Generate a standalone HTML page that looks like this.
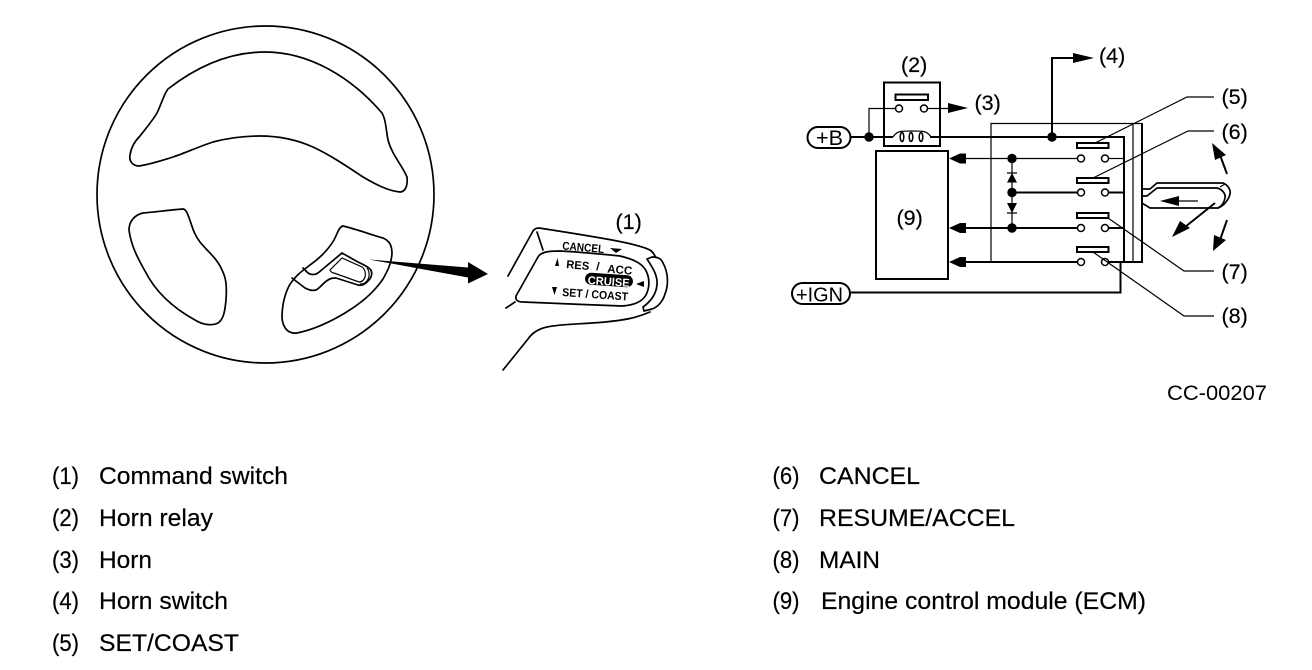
<!DOCTYPE html>
<html lang="en">
<head>
<meta charset="utf-8">
<title>Cruise control command switch diagram</title>
<style>
html,body{margin:0;padding:0;background:#fff;width:1312px;height:670px;overflow:hidden}
svg{display:block}
text{font-family:"Liberation Sans",Arial,sans-serif;fill:#000}
.l{font-size:24px;stroke:#000;stroke-width:.2}
.p{font-size:21.5px;stroke:#000;stroke-width:.2}
.s{font-size:11.500px;font-weight:bold}
.w{fill:none;stroke:#000;stroke-width:1.7;stroke-linejoin:round;stroke-linecap:round}
.t{fill:none;stroke:#000;stroke-width:1.2}
.m{fill:none;stroke:#000;stroke-width:2}
.c{fill:#fff;stroke:#000;stroke-width:1.500}
.d{fill:#000;stroke:none}
</style>
</head>
<body>
<svg width="1312" height="670" viewBox="0 0 1312 670" xmlns="http://www.w3.org/2000/svg">
<rect width="1312" height="670" fill="#fff"/>

<!-- Steering wheel -->
<circle class="w" cx="265.5" cy="194.5" r="168.5"/>
<path class="w" d="M168 89C195 68 228 52 265 52C310 52 352 78 382 113C386 120 386 130 388 140C392 155 402 165 407 177C408 186 405 192 400 192C388 191 375 184 363 177C345 165 330 155 313 147C295 139 278 136 260 136C243 136 228 138 213 142C198 147 185 153 173 157C160 161 148 165 138 166C132 165 129 161 130 155C131 148 134 142 140 136C147 127 153 120 157 113C161 105 164 94 168 89Z"/>
<path class="w" d="M183 209C170 210 155 212 143 213C134 215 129 222 129 230C131 245 137 257 145 271C156 293 175 309 195 320C203 325 212 326 218 323C224 319 225 310 226 300C227 285 226 278 222 270C217 258 207 251 200 242C193 233 192 225 188 215C187 212 185 209 183 209Z"/>
<path class="w" d="M343 226C356 229 372 235 383 238C390 241 392 246 392 254C391 264 388 270 383 279C372 295 358 305 345 313C330 322 312 330 297 333C288 334 283 328 282 318C282 306 284 296 289 286C295 276 302 271 310 265C320 258 328 250 334 240C338 232 339 227 343 226Z"/>
<!-- wheel switch -->
<path class="w" d="M292 278L305 288C309 290 312 291 316 290C320 288 323 283 328 280C331 278 333 278 336 278L358 285C362 286 365 284 367 282C372 278 373 272 370 269C367 266 362 264 358 262L342 253L318 273C315 275 311 275 308 273L303 268"/>
<path class="t" d="M342 258L330 270C331 272 332 273 334 273L359 282C362 282 364 280 365 277C366 273 365 269 362 267Z"/>
<path class="t" d="M367 268C370 272 370 278 366 282C364 284 362 284 360 284"/>
<!-- big arrow -->
<path class="d" d="M369 259.500L468 267.500V262L488 274L468 283.500V277.500Z"/>

<!-- Command switch -->
<path class="w" d="M508 276L533 231Q535 228 539 228C565 232 590 236 612 240C628 243 642 246 650 250C653 252 654 254 655 256"/>
<path class="w" d="M650 312C636 318 625 320 605 322C585 324 560 324 547 327C538 329 532 333 528 339L503 370"/>
<path class="w" d="M537 232L543 250"/>
<path class="w" d="M560 251C580 252 600 254 620 256C632 259 640 262 645 269C650 277 650 287 646 295C642 302 634 305 622 306C590 305 550 303 523 302C518 302 515 300 516 296L538 257C541 252 548 251 560 251Z"/>
<path class="w" d="M506 308L515 302"/>
<path class="w" d="M647 259L652 257C657 257 661 258 663 263C668 272 669 284 665 294C663 301 658 307 652 309L644 311L643 307C650 302 656 295 657 285C658 275 652 267 647 259Z"/>
<text class="s" transform="translate(562 249.500) rotate(5)" textLength="42" lengthAdjust="spacingAndGlyphs">CANCEL</text>
<path class="d" d="M610 248L622 249L616 253Z"/>
<path class="d" d="M555 266L557.500 258L559 266Z"/>
<text class="s" transform="translate(566 268) rotate(5)" textLength="23" lengthAdjust="spacingAndGlyphs">RES</text>
<text class="s" transform="translate(596 270) rotate(5)">/</text>
<text class="s" transform="translate(607 272.500) rotate(5)" textLength="25" lengthAdjust="spacingAndGlyphs">ACC</text>
<rect x="585" y="274" width="48" height="12" rx="6" transform="rotate(4 609 280)" fill="#000"/>
<text class="s" transform="translate(587.500 284) rotate(4)" style="fill:#fff" textLength="42" lengthAdjust="spacingAndGlyphs">CRUISE</text>
<path class="d" d="M636 284L644 281V287Z"/>
<path class="d" d="M552 287L557 287L554.500 295Z"/>
<text class="s" transform="translate(562 296) rotate(4)" textLength="66" lengthAdjust="spacingAndGlyphs">SET / COAST</text>

<!-- Relay -->
<rect class="m" x="884" y="82.500" width="56" height="63.500"/>
<rect class="m" x="895.500" y="94.500" width="32.500" height="5.500"/>
<path class="t" d="M869 137V108.500H895M928 108.500H950"/>
<circle class="c" cx="899" cy="108.500" r="3.500"/>
<circle class="c" cx="924" cy="108.500" r="3.500"/>
<path class="d" d="M948 103L968 108L948 113Z"/>
<path class="m" d="M851 137H893M930 137H1124V262.500"/>
<path class="t" d="M893 137C897 131 900 131 912 131C924 131 927 131 931 137"/>
<ellipse class="c" cx="902" cy="137" rx="1.800" ry="4.500"/>
<ellipse class="c" cx="911" cy="137" rx="1.800" ry="4.500"/>
<ellipse class="c" cx="921" cy="137" rx="1.800" ry="4.500"/>

<!-- +B, +IGN -->
<rect class="m" x="807.500" y="127" width="43" height="21" rx="10.500"/>
<text x="816" y="145" font-size="21" textLength="27" lengthAdjust="spacingAndGlyphs">+B</text>
<rect class="m" x="792" y="283" width="58" height="21" rx="10.500"/>
<text x="796" y="301.500" font-size="20.500" textLength="47" lengthAdjust="spacingAndGlyphs">+IGN</text>
<path class="m" d="M851 292.500H1120.500V262"/>

<!-- ECM -->
<rect x="876" y="151" width="72" height="128" fill="#fff" stroke="#000" stroke-width="2"/>
<path class="d" d="M949 158.500L960 153.500H966V163.500H960Z"/>
<path class="d" d="M949 228L960 223H966V233H960Z"/>
<path class="d" d="M949 262L960 257H966V267H960Z"/>

<!-- Switch wires -->
<path class="t" d="M991 262V123.500H1142"/>
<path class="t" d="M966 158.500H1077"/>
<path class="m" d="M1012 192.500H1077M966 228H1077M966 262H1077"/>
<path class="t" d="M1109 158.500H1124"/>
<path class="m" d="M1109 192.500H1124M1109 228H1124M1109 262H1142V123"/>
<path class="t" d="M1133 123V262"/>
<path class="m" d="M1052 137V58H1075"/>
<path class="d" d="M1073 53L1094 58L1073 63Z"/>
<path class="t" d="M1012 158V228"/>
<path class="d" d="M1012 173L1017 182.500H1007Z"/>
<path class="t" d="M1007 173H1017M1007 213H1017"/>
<path class="d" d="M1012 213L1017 203H1007Z"/>
<circle class="d" cx="869" cy="137" r="4.700"/>
<circle class="d" cx="1052" cy="137" r="4.700"/>
<circle class="d" cx="1012" cy="158.500" r="4.700"/>
<circle class="d" cx="1012" cy="192.500" r="4.700"/>
<circle class="d" cx="1012" cy="228" r="4.700"/>

<!-- Switches -->
<rect class="m" x="1077" y="143" width="31.500" height="5"/>
<rect class="m" x="1077" y="178" width="31.500" height="5"/>
<rect class="m" x="1077" y="213" width="31.500" height="5"/>
<rect class="m" x="1077" y="247" width="31.500" height="5"/>
<circle class="c" cx="1081" cy="158.500" r="3.500"/><circle class="c" cx="1105" cy="158.500" r="3.500"/>
<circle class="c" cx="1081" cy="192.500" r="3.500"/><circle class="c" cx="1105" cy="192.500" r="3.500"/>
<circle class="c" cx="1081" cy="228" r="3.500"/><circle class="c" cx="1105" cy="228" r="3.500"/>
<circle class="c" cx="1081" cy="262" r="3.500"/><circle class="c" cx="1105" cy="262" r="3.500"/>

<!-- Leaders -->
<path class="t" d="M1095 143L1187 97H1214"/>
<path class="t" d="M1093 178L1188 131H1214"/>
<path class="t" d="M1108 218L1184 271H1214"/>
<path class="t" d="M1093 252L1184 316H1214"/>

<!-- Stalk -->
<path class="w" d="M1142 189H1150L1157 183H1223C1228 185 1231 190 1230 194C1229 199 1224 206 1218 208H1150L1142 203"/>
<path class="w" d="M1142 196H1147L1157 188H1217C1222 189 1226 194 1225 198C1224 203 1222 206 1218 208"/>
<path class="t" d="M1220 187L1225 184"/>
<path class="t" d="M1178 201H1198"/>
<path class="d" d="M1160 201L1179 196V206Z"/>
<path class="m" d="M1215 203L1185 227"/>
<path class="d" d="M1172 237L1180 221L1190 228Z"/>
<path class="m" d="M1227 174L1220 155"/>
<path class="d" d="M1212 143L1226 155L1215 160Z"/>
<path class="m" d="M1227 220L1220 240"/>
<path class="d" d="M1213 251L1214 235L1226 240Z"/>

<!-- Diagram labels -->
<text class="p" x="615.500" y="229">(1)</text>
<text class="p" x="901" y="72">(2)</text>
<text class="p" x="974.500" y="110">(3)</text>
<text class="p" x="1099" y="63">(4)</text>
<text class="p" x="1221.500" y="104">(5)</text>
<text class="p" x="1221.500" y="139">(6)</text>
<text class="p" x="1221.500" y="279">(7)</text>
<text class="p" x="1221.500" y="323">(8)</text>
<text class="p" x="896.500" y="225">(9)</text>
<text x="1167" y="400" font-size="21" textLength="100" lengthAdjust="spacingAndGlyphs">CC-00207</text>

<!-- Legend -->
<text class="l" x="52" y="484" textLength="27" lengthAdjust="spacingAndGlyphs">(1)</text><text class="l" x="99" y="484" textLength="189" lengthAdjust="spacingAndGlyphs">Command switch</text>
<text class="l" x="52" y="526" textLength="27" lengthAdjust="spacingAndGlyphs">(2)</text><text class="l" x="99" y="526" textLength="114" lengthAdjust="spacingAndGlyphs">Horn relay</text>
<text class="l" x="52" y="568" textLength="27" lengthAdjust="spacingAndGlyphs">(3)</text><text class="l" x="99" y="568" textLength="53" lengthAdjust="spacingAndGlyphs">Horn</text>
<text class="l" x="52" y="609" textLength="27" lengthAdjust="spacingAndGlyphs">(4)</text><text class="l" x="99" y="609" textLength="129" lengthAdjust="spacingAndGlyphs">Horn switch</text>
<text class="l" x="52" y="651" textLength="27" lengthAdjust="spacingAndGlyphs">(5)</text><text class="l" x="99" y="651" textLength="140" lengthAdjust="spacingAndGlyphs">SET/COAST</text>
<text class="l" x="772.500" y="484" textLength="27" lengthAdjust="spacingAndGlyphs">(6)</text><text class="l" x="819" y="484" textLength="101" lengthAdjust="spacingAndGlyphs">CANCEL</text>
<text class="l" x="772.500" y="526" textLength="27" lengthAdjust="spacingAndGlyphs">(7)</text><text class="l" x="819" y="526" textLength="196" lengthAdjust="spacingAndGlyphs">RESUME/ACCEL</text>
<text class="l" x="772.500" y="568" textLength="27" lengthAdjust="spacingAndGlyphs">(8)</text><text class="l" x="819" y="568" textLength="61" lengthAdjust="spacingAndGlyphs">MAIN</text>
<text class="l" x="772.500" y="609" textLength="27" lengthAdjust="spacingAndGlyphs">(9)</text><text class="l" x="821" y="609" textLength="325" lengthAdjust="spacingAndGlyphs">Engine control module (ECM)</text>
</svg>
</body>
</html>
